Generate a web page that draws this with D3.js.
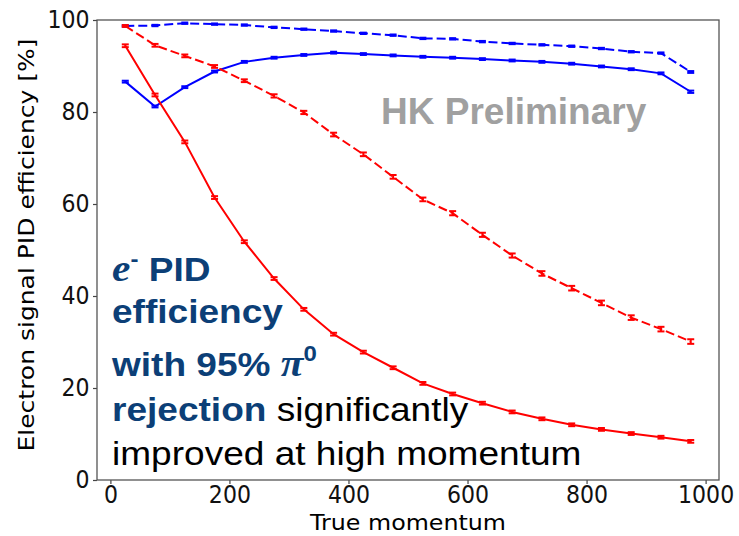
<!DOCTYPE html>
<html>
<head>
<meta charset="utf-8">
<script src="https://cdn.jsdelivr.net/npm/d3@7"></script>
<style>
  body { margin: 0; background: #fff; }
  svg { display: block; }
</style>
</head>
<body>
<svg id="chart" width="739" height="536"></svg>
<script>
// true momentum bin centres
const momentum = [25, 75, 125, 175, 225, 275, 325, 375, 425, 475, 525, 575, 625, 675, 725, 775, 825, 875, 925, 975];

// efficiencies [%]
const blueDashed = [98.7, 98.8, 99.3, 99.1, 98.9, 98.4, 98.0, 97.6, 97.1, 96.7, 96.0, 95.9, 95.3, 94.9, 94.6, 94.3, 93.8, 93.1, 92.8, 88.7];
const blueSolid = [86.6, 81.2, 85.4, 88.8, 90.9, 91.8, 92.4, 92.9, 92.6, 92.3, 92.0, 91.8, 91.5, 91.2, 90.9, 90.5, 89.9, 89.3, 88.4, 84.4];
const redDashed = [98.7, 94.5, 92.2, 89.9, 86.8, 83.5, 79.9, 75.1, 70.8, 65.9, 61.0, 58.0, 53.3, 48.8, 44.9, 41.7, 38.5, 35.3, 32.8, 30.1];
const redSolid = [94.4, 83.7, 73.5, 61.4, 51.8, 43.8, 37.1, 31.7, 27.8, 24.4, 21.0, 18.7, 16.7, 14.8, 13.3, 12.0, 11.0, 10.1, 9.3, 8.4];

// error bars
const blueDashedErr = [0.15, 0.15, 0.15, 0.15, 0.15, 0.15, 0.15, 0.15, 0.15, 0.15, 0.15, 0.15, 0.15, 0.15, 0.15, 0.15, 0.15, 0.15, 0.15, 0.2];
const blueSolidErr = [0.2, 0.2, 0.2, 0.2, 0.2, 0.2, 0.2, 0.2, 0.2, 0.2, 0.2, 0.2, 0.2, 0.2, 0.2, 0.2, 0.2, 0.2, 0.2, 0.25];
const redDashedErr = [0.2, 0.3, 0.3, 0.3, 0.3, 0.35, 0.35, 0.4, 0.4, 0.4, 0.4, 0.45, 0.45, 0.45, 0.5, 0.5, 0.5, 0.5, 0.5, 0.5];
const redSolidErr = [0.3, 0.3, 0.3, 0.3, 0.3, 0.3, 0.3, 0.3, 0.3, 0.3, 0.3, 0.3, 0.3, 0.3, 0.3, 0.3, 0.3, 0.3, 0.3, 0.3];

const xTicks = [0, 200, 400, 600, 800, 1000];
const yTicks = [0, 20, 40, 60, 80, 100];

const noteLines = [
  [{ t: 'e', k: 'math' }, { t: '-', k: 'sup' }, { t: ' PID', k: 'bold' }],
  [{ t: 'efficiency', k: 'bold' }],
  [{ t: 'with 95% ', k: 'bold' }, { t: 'π', k: 'math' }, { t: '0', k: 'sup' }],
  [{ t: 'rejection', k: 'bold' }, { t: ' significantly', k: 'plain' }],
  [{ t: 'improved at high momentum', k: 'plain' }]
];

const svg = d3.select('#chart');
svg.append('rect').attr('width', 739).attr('height', 536).attr('fill', '#fff');

const x = d3.scaleLinear().domain([-22.5, 1022.5]).range([97, 719]);
const y = d3.scaleLinear().domain([0, 100]).range([480, 20]);

// axes
const tickFont = 'DejaVu Sans, sans-serif';
const xAxis = svg.append('g')
  .attr('transform', 'translate(0,480)')
  .call(d3.axisBottom(x).tickValues(xTicks).tickFormat(d3.format('d'))
    .tickSize(4).tickPadding(2).tickSizeOuter(0));
const yAxis = svg.append('g')
  .attr('transform', 'translate(97,0)')
  .call(d3.axisLeft(y).tickValues(yTicks).tickFormat(d3.format('d'))
    .tickSize(4).tickPadding(4).tickSizeOuter(0));

[xAxis, yAxis].forEach(g => {
  g.select('.domain').remove();
  g.selectAll('line').attr('stroke', '#444').attr('stroke-width', 1.2);
  g.selectAll('text')
    .attr('font-family', tickFont)
    .attr('font-size', 24)
    .attr('fill', '#111')
    .attr('transform', 'scale(0.92,1)');
});

// frame
svg.append('rect')
  .attr('x', 97).attr('y', 20)
  .attr('width', 622).attr('height', 460)
  .attr('fill', 'none')
  .attr('stroke', '#555')
  .attr('stroke-width', 1.3);

// axis labels
svg.append('text')
  .attr('x', 408).attr('y', 530)
  .attr('text-anchor', 'middle')
  .attr('font-family', tickFont)
  .attr('font-size', 22)
  .attr('transform', 'translate(408,0) scale(1.08,1) translate(-408,0)')
  .text('True momentum');

svg.append('text')
  .attr('transform', 'translate(34,245) rotate(-90) scale(1,0.88)')
  .attr('text-anchor', 'middle')
  .attr('font-family', tickFont)
  .attr('font-size', 25)
  .text('Electron signal PID efficiency [%]');

// series
const series = [
  { values: blueDashed, errors: blueDashedErr, color: '#0000ff', dash: '9,4' },
  { values: blueSolid, errors: blueSolidErr, color: '#0000ff', dash: null },
  { values: redDashed, errors: redDashedErr, color: '#ff0000', dash: '9,4' },
  { values: redSolid, errors: redSolidErr, color: '#ff0000', dash: null }
];

const line = d3.line()
  .x((d, i) => x(momentum[i]))
  .y(d => y(d));

series.forEach(s => {
  svg.append('path')
    .datum(s.values)
    .attr('d', line)
    .attr('fill', 'none')
    .attr('stroke', s.color)
    .attr('stroke-width', 2)
    .attr('stroke-dasharray', s.dash);

  const bars = svg.append('g').attr('stroke', s.color).attr('stroke-width', 2);
  s.values.forEach((v, i) => {
    const cx = x(momentum[i]);
    const lo = y(v - s.errors[i]);
    const hi = y(v + s.errors[i]);
    bars.append('line').attr('x1', cx).attr('x2', cx).attr('y1', lo).attr('y2', hi);
    bars.append('line').attr('x1', cx - 3.5).attr('x2', cx + 3.5).attr('y1', lo).attr('y2', lo);
    bars.append('line').attr('x1', cx - 3.5).attr('x2', cx + 3.5).attr('y1', hi).attr('y2', hi);
  });
});

// watermark
svg.append('text')
  .attr('x', 381).attr('y', 124)
  .attr('font-family', 'Liberation Sans, Arial, sans-serif')
  .attr('font-weight', 'bold')
  .attr('font-size', 37)
  .attr('fill', '#a0a0a0')
  .text('HK Preliminary');

// annotation
const noteBlue = '#0c3f77';
const baselines = [281, 323, 376, 421, 465];
const note = svg.append('g').attr('transform', 'translate(112,0) scale(1.09,1)');

noteLines.forEach((runs, li) => {
  const txt = note.append('text')
    .attr('x', 0)
    .attr('y', baselines[li])
    .attr('font-family', 'Liberation Sans, Arial, sans-serif')
    .attr('font-size', 34);
  let raised = false;
  runs.forEach(r => {
    const ts = txt.append('tspan').text(r.t);
    if (r.k === 'sup') {
      ts.attr('dy', -15).attr('font-size', 22).attr('font-weight', 'bold').attr('fill', noteBlue);
      raised = true;
      return;
    }
    if (raised) { ts.attr('dy', 15); raised = false; }
    if (r.k === 'bold') {
      ts.attr('font-weight', 'bold').attr('fill', noteBlue);
    } else if (r.k === 'math') {
      ts.attr('font-family', 'Liberation Serif, DejaVu Serif, serif')
        .attr('font-style', 'italic')
        .attr('font-weight', 'bold')
        .attr('font-size', 38)
        .attr('fill', noteBlue);
    } else {
      ts.attr('fill', '#000');
    }
  });
});
</script>
</body>
</html>
